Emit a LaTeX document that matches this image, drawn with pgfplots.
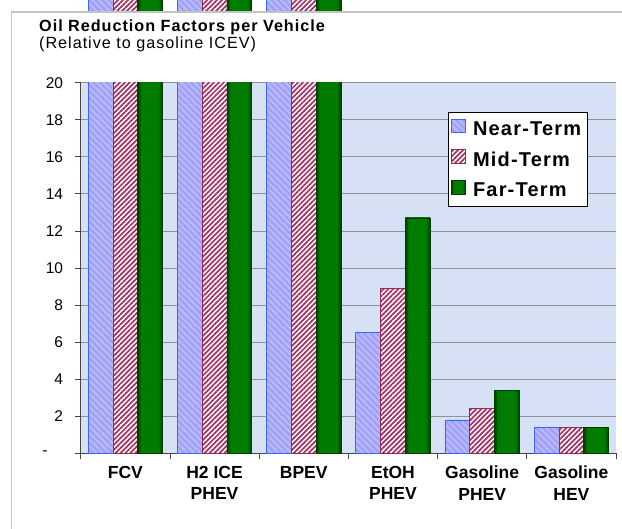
\documentclass[border=0pt]{standalone}
\usepackage{fontspec}
\setmainfont{Liberation Sans}
\newfontfamily\ttlfont[LetterSpace=6]{Liberation Sans}
\usepackage{pgfplots}
\pgfplotsset{compat=1.18}
\usetikzlibrary{patterns.meta}
\definecolor{bgc}{RGB}{214,225,246}
\definecolor{nearfill}{RGB}{165,195,255}
\definecolor{nearstripe}{RGB}{178,152,240}
\definecolor{nearedge}{RGB}{60,100,255}
\definecolor{midstripe}{RGB}{165,50,100}
\definecolor{midedge}{RGB}{150,40,90}
\definecolor{farmid}{RGB}{0,125,0}
\definecolor{fardark}{RGB}{0,62,0}
\definecolor{gridc}{RGB}{145,145,145}
\definecolor{axisc}{RGB}{70,70,70}
\definecolor{framec}{RGB}{195,195,195}
\pgfdeclarehorizontalshading{farsh}{100bp}{color(0bp)=(fardark); color(25bp)=(fardark); color(32bp)=(farmid); color(66bp)=(farmid); color(75bp)=(fardark); color(100bp)=(fardark)}
\pgfplotsset{
  nearstyle/.style={draw=nearedge, line width=0.8bp, fill=nearfill,
    postaction={pattern={Lines[angle=-45,distance=4.6bp,line width=2.3bp]}, pattern color=nearstripe}},
  midstyle/.style={draw=midedge, line width=0.8bp, fill=white,
    postaction={pattern={Lines[angle=45,distance=3.5bp,line width=1.75bp]}, pattern color=midstripe}},
  farstyle/.style={draw=fardark, line width=0.8bp, shade, shading=farsh},
}
\begin{document}
\begin{tikzpicture}
\path[use as bounding box] (0bp,0bp) rectangle (622bp,529bp);
\clip (0bp,0bp) rectangle (622bp,529bp);
\begin{axis}[
  at={(80.7bp,75.7bp)}, anchor=south west, scale only axis,
  width=535.3bp, height=370.6bp,
  xmin=-0.5, xmax=5.5, ymin=0, ymax=20, clip=false,
  ybar=0pt, bar width=24.8bp,
  axis background/.style={fill=bgc},
  axis x line*=bottom, axis y line*=left,
  axis line style={axisc, line width=1.2bp},
  tick align=outside, major tick length=5.7bp,
  tick style={axisc, line width=0.8bp},
  ymajorgrids, grid style={gridc, line width=0.8bp},
  ytick={0,2,...,20},
  yticklabels={{-\hspace*{15.5bp}},2,4,6,8,10,12,14,16,18,20},
  yticklabel style={font=\fontsize{15.5bp}{18bp}\selectfont, inner sep=0pt, anchor=east, xshift=-11.7bp},
  xtick={-0.5,0.5,...,5.5},
  xticklabels={,,,,,,},
  extra x ticks={0,1,2,3,4,5},
  extra x tick labels={FCV,{H2 ICE\\PHEV},BPEV,{EtOH\\PHEV},{Gasoline\\PHEV},{Gasoline\\HEV}},
  extra x tick style={major tick length=0pt, grid=none,
    xticklabel style={anchor=north, align=center, inner sep=0pt, yshift=-12.7bp,
      font=\bfseries\fontsize{17.5bp}{21.5bp}\selectfont}},
  legend style={at={(0.686,0.921)}, anchor=north west, draw=black, line width=0.6bp, fill=white,
    font=\ttlfont\bfseries\fontsize{20bp}{23bp}\selectfont, row sep=10.5bp,
    inner xsep=3bp, inner ysep=6.5bp, nodes={inner xsep=3.5bp, inner ysep=2bp}},
  legend cell align=left,
  legend image code/.code={\draw[#1, line width=0.8bp] (0bp,-3.5bp) rectangle (13.5bp,10bp);
    \path (17.5bp,0bp);},
]
\addplot[nearstyle, bar shift=-24.8bp]
  coordinates {(0,30) (1,30) (2,30) (3,6.5) (4,1.8) (5,1.4)};
\addplot[midstyle, bar shift=0bp]
  coordinates {(0,30) (1,30) (2,30) (3,8.9) (4,2.4) (5,1.4)};
\addplot[farstyle, bar shift=24.8bp] coordinates {(0,30)};
\addplot[farstyle, bar shift=24.8bp, forget plot] coordinates {(1,30)};
\addplot[farstyle, bar shift=24.8bp, forget plot] coordinates {(2,30)};
\addplot[farstyle, bar shift=24.8bp, forget plot] coordinates {(3,12.7)};
\addplot[farstyle, bar shift=24.8bp, forget plot] coordinates {(4,3.4)};
\addplot[farstyle, bar shift=24.8bp, forget plot] coordinates {(5,1.4)};
\legend{Near-Term,Mid-Term,Far-Term}
\end{axis}
\fill[white] (84bp,446.9bp) rectangle (640bp,517bp);
\draw[framec, line width=1.6bp] (11.5bp,-10bp) -- (11.5bp,517bp) -- (640bp,517bp);
\node[anchor=base west, inner sep=0pt, font=\ttlfont\bfseries\fontsize{16.2bp}{19bp}\selectfont] at (39bp,497.7bp) {Oil Reduction Factors per Vehicle};
\node[anchor=base west, inner sep=0pt, font=\ttlfont\fontsize{16.2bp}{19bp}\selectfont] at (39bp,480.7bp) {(Relative to gasoline ICEV)};
\end{tikzpicture}
\end{document}
